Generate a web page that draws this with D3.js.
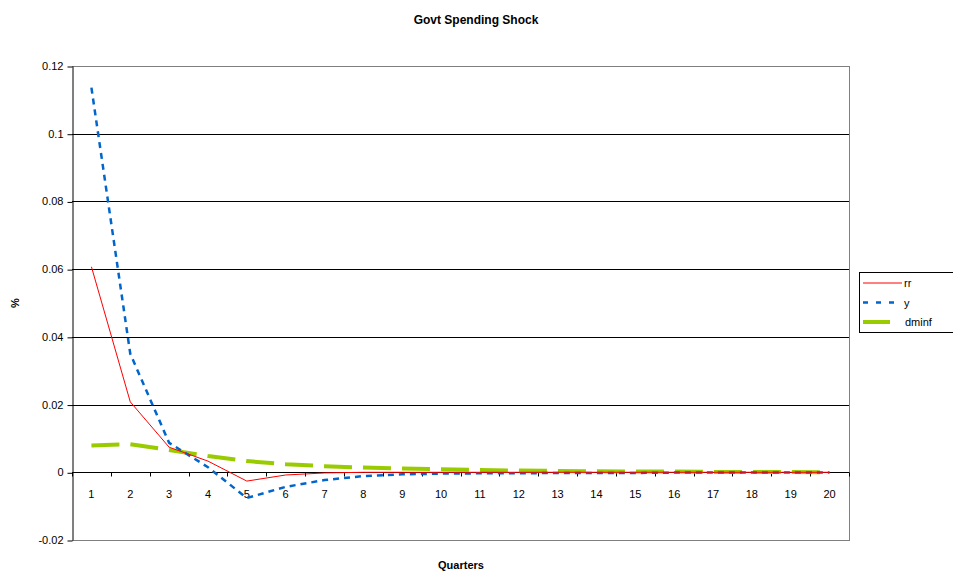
<!DOCTYPE html>
<html><head><meta charset="utf-8">
<script src="https://cdn.jsdelivr.net/npm/d3@7"></script>
<style>body{margin:0;background:#fff}svg{display:block;font-family:"Liberation Sans",Arial,sans-serif}</style>
</head><body><svg id="c" width="953" height="577"></svg>
<script>
const quarters = d3.range(1, 21);
const rr    = [0.0607, 0.0208, 0.0074, 0.0033, -0.0026, -0.0008, -0.0002, 0.0000, 0.0000, 0.0000, 0.0000, 0.0000, 0.0000, 0.0000, 0.0000, 0.0000, 0.0000, 0.0000, 0.0000, 0.0000];
const y     = [0.1136, 0.0350, 0.0087, 0.0015, -0.0076, -0.0043, -0.0023, -0.0011, -0.0006, -0.0004, -0.0003, -0.0003, -0.0002, -0.0002, -0.0002, -0.0001, -0.0001, -0.0001, -0.0001, -0.0001];
const dminf = [0.0079, 0.0083, 0.0066, 0.0048, 0.0033, 0.0024, 0.0018, 0.0014, 0.0011, 0.0009, 0.0007, 0.0005, 0.0004, 0.0003, 0.0002, 0.0002, 0.0001, 0.0001, 0.0001, 0.0000];
const yTicks = [-0.02, 0, 0.02, 0.04, 0.06, 0.08, 0.1, 0.12];
const seriesNames = ["rr", "y", "dminf"];

const svg = d3.select("#c");
const L = 72, R = 849, T = 66, B = 540;
const x = d3.scaleBand().domain(quarters).range([L, R]);
const yS = d3.scaleLinear().domain([-0.02, 0.12]).range([B, T]);

// gridlines
svg.append("g").selectAll("line").data(yTicks).join("line")
  .attr("x1", L).attr("x2", R)
  .attr("y1", d => Math.round(yS(d)) + 0.5).attr("y2", d => Math.round(yS(d)) + 0.5)
  .attr("stroke", d => (d === 0.12 || d === -0.02) ? "#808080" : "#000").attr("stroke-width", 1);
// right border
svg.append("line").attr("x1", R + 0.5).attr("x2", R + 0.5).attr("y1", T).attr("y2", B + 1).attr("stroke", "#808080");

// y axis
const yAxis = d3.axisLeft(yS).tickValues(yTicks).tickSize(5).tickSizeOuter(0)
  .tickFormat(d => d === 0 ? "0" : String(+d.toFixed(2)));
const gy = svg.append("g").attr("transform", `translate(${L + 0.5},0)`).call(yAxis);
gy.select(".domain").attr("stroke", "#000");
gy.selectAll(".tick line").attr("stroke", "#000").attr("transform", "translate(0,0.5)");
gy.selectAll(".tick text").attr("font-size", 11).attr("fill", "#000").attr("x", -9)
  .attr("font-family", "Liberation Sans, Arial, sans-serif");

// x axis on zero line
const zy = Math.round(yS(0)) + 0.5;
svg.append("line").attr("x1", L).attr("x2", R).attr("y1", zy).attr("y2", zy).attr("stroke", "#000");
const bounds = d3.range(0, 21).map(i => L + i * x.bandwidth());
svg.append("g").selectAll("line").data(bounds).join("line")
  .attr("x1", d => Math.round(d) + 0.5).attr("x2", d => Math.round(d) + 0.5)
  .attr("y1", zy).attr("y2", zy + 4).attr("stroke", "#000");
svg.append("g").selectAll("text").data(quarters).join("text")
  .attr("x", d => x(d) + x.bandwidth() / 2).attr("y", zy + 25)
  .attr("text-anchor", "middle").attr("font-size", 11).text(d => d);

// series
const cx = d => x(d) + x.bandwidth() / 2;
const line = d3.line().x((d, i) => cx(quarters[i])).y(d => yS(d));
svg.append("path").datum(dminf).attr("d", line).attr("fill", "none")
  .attr("stroke", "#99CC00").attr("stroke-width", 4).attr("stroke-dasharray", "28,11");
svg.append("path").datum(y).attr("d", line).attr("fill", "none")
  .attr("stroke", "#0066CC").attr("stroke-width", 2.5).attr("stroke-dasharray", "6,5");
svg.append("path").datum(rr).attr("d", line).attr("fill", "none")
  .attr("stroke", "#FF0000").attr("stroke-width", 1);

// titles
svg.append("text").attr("x", 476).attr("y", 24).attr("text-anchor", "middle")
  .attr("font-size", 12).attr("font-weight", "bold").text("Govt Spending Shock");
svg.append("text").attr("x", 461).attr("y", 569).attr("text-anchor", "middle")
  .attr("font-size", 11).attr("font-weight", "bold").text("Quarters");
svg.append("text").attr("transform", "translate(19,303) rotate(-90)").attr("text-anchor", "middle")
  .attr("font-size", 11).attr("font-weight", "bold").text("%");

// legend
const lg = svg.append("g");
lg.append("rect").attr("x", 859.5).attr("y", 272.5).attr("width", 100).attr("height", 60)
  .attr("fill", "#fff").attr("stroke", "#000");
const styles = [
  {c: "#FF0000", w: 1, d: null},
  {c: "#0066CC", w: 2.5, d: "5,8"},
  {c: "#99CC00", w: 4, d: null}
];
const lx2 = [902, 902, 890];
seriesNames.forEach((n, i) => {
  const ly = 283 + i * 19.5;
  lg.append("line").attr("x1", 863).attr("x2", lx2[i]).attr("y1", ly).attr("y2", ly)
    .attr("stroke", styles[i].c).attr("stroke-width", styles[i].w)
    .attr("stroke-dasharray", styles[i].d);
  lg.append("text").attr("x", i === 2 ? 905 : 904).attr("y", ly + 4).attr("font-size", 11).text(n);
});
</script></body></html>
